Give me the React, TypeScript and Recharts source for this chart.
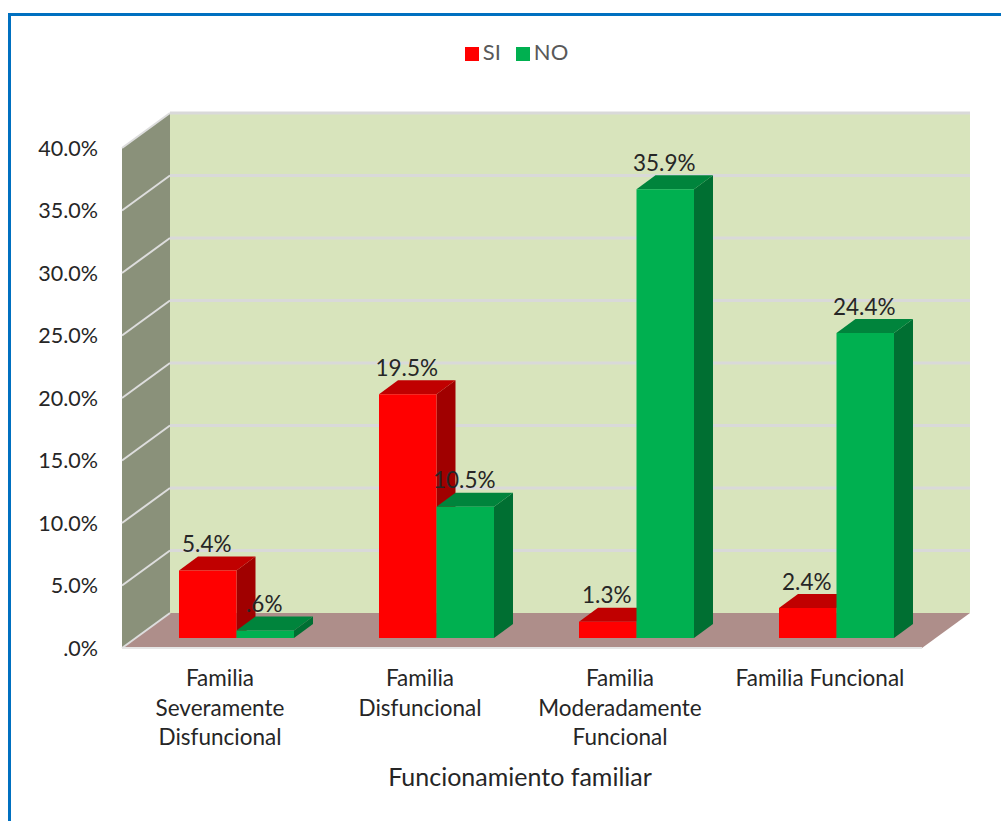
import React from 'react';
import { BarChart, Bar, XAxis, YAxis, CartesianGrid, Legend, LabelList, usePlotArea } from 'recharts';

const categories = [
  'Familia Severamente Disfuncional',
  'Familia Disfuncional',
  'Familia Moderadamente Funcional',
  'Familia Funcional',
];
const categoryLines: Record<string, string[]> = {
  'Familia Severamente Disfuncional': ['Familia', 'Severamente', 'Disfuncional'],
  'Familia Disfuncional': ['Familia', 'Disfuncional'],
  'Familia Moderadamente Funcional': ['Familia', 'Moderadamente', 'Funcional'],
  'Familia Funcional': ['Familia Funcional'],
};
const siValues = [5.4, 19.5, 1.3, 2.4];
const noValues = [0.6, 10.5, 35.9, 24.4];
const yTicks = [0, 5, 10, 15, 20, 25, 30, 35, 40];

const data = categories.map((name, i) => ({ name, SI: siValues[i], NO: noValues[i] }));

const FONT = 'Lato, sans-serif';
const TEXT = '#262626';

// depth of the box the chart sits in
const WALL_DX = 48;
const WALL_DY = -35;
// bars stand partway back on the floor
const BAR_DX = 14;
const BAR_DY = -10;
const BAR_DEPTH_X = 19;
const BAR_DEPTH_Y = -14;

// Excel style: no leading zero
const pct = (v: number) => `${v.toFixed(1).replace(/^0/, '')}%`;

const pts = (list: number[][]) => list.map((p) => p.join(',')).join(' ');

const Walls = () => {
  const plot = usePlotArea();
  if (!plot) return null;
  const { x, y, width, height } = plot;
  const bottom = y + height;
  return (
    <g>
      <polygon
        fill="#D8E4BC"
        points={pts([
          [x + WALL_DX, y + WALL_DY],
          [x + width + WALL_DX, y + WALL_DY],
          [x + width + WALL_DX, bottom + WALL_DY],
          [x + WALL_DX, bottom + WALL_DY],
        ])}
      />
      <polygon
        fill="#8A917A"
        points={pts([
          [x, y],
          [x + WALL_DX, y + WALL_DY],
          [x + WALL_DX, bottom + WALL_DY],
          [x, bottom],
        ])}
      />
      <polygon
        fill="#AE8E8A"
        points={pts([
          [x, bottom],
          [x + WALL_DX, bottom + WALL_DY],
          [x + width + WALL_DX, bottom + WALL_DY],
          [x + width, bottom],
        ])}
      />
    </g>
  );
};

// each gridline runs up the side wall, then across the back wall
const gridLine = (p: any) => {
  const isFloor = p.y1 > 600;
  return (
    <g key={p.key}>
      <line x1={p.x1} y1={p.y1} x2={p.x1 + WALL_DX} y2={p.y1 + WALL_DY} stroke="#DDDDDD" strokeWidth={2} />
      {!isFloor && (
        <line
          x1={p.x1 + WALL_DX}
          y1={p.y1 + WALL_DY}
          x2={p.x2 + WALL_DX}
          y2={p.y2 + WALL_DY}
          stroke="#D9D9D9"
          strokeWidth={3}
        />
      )}
    </g>
  );
};

const box3d = (top: string, side: string) => (p: any) => {
  const x = p.x + BAR_DX;
  const y = p.y + BAR_DY;
  const { width, height, fill } = p;
  return (
    <g>
      <polygon
        fill={side}
        points={pts([
          [x + width, y],
          [x + width + BAR_DEPTH_X, y + BAR_DEPTH_Y],
          [x + width + BAR_DEPTH_X, y + height + BAR_DEPTH_Y],
          [x + width, y + height],
        ])}
      />
      <polygon
        fill={top}
        points={pts([
          [x, y],
          [x + BAR_DEPTH_X, y + BAR_DEPTH_Y],
          [x + width + BAR_DEPTH_X, y + BAR_DEPTH_Y],
          [x + width, y],
        ])}
      />
      <rect x={x} y={y} width={width} height={height} fill={fill} />
    </g>
  );
};

const redBox = box3d('#C00000', '#A00000');
const greenBox = box3d('#00843C', '#006F32');

const valueLabel = (p: any) => (
  <text
    x={p.x + p.width / 2 + BAR_DX - 1}
    y={p.y + BAR_DY - 27}
    textAnchor="middle"
    dominantBaseline="central"
    fontFamily={FONT}
    fontSize={22.5}
    fill={TEXT}
  >
    {pct(Number(p.value))}
  </text>
);

const CategoryTick = (p: any) => {
  const lines = categoryLines[p.payload.value] ?? [p.payload.value];
  return (
    <text x={p.x - 2} y={p.y} textAnchor="middle" fontFamily={FONT} fontSize={22.5} fill={TEXT}>
      {lines.map((line, i) => (
        <tspan key={line} x={p.x - 2} y={p.y + 30 + i * 29.5}>
          {line}
        </tspan>
      ))}
    </text>
  );
};

export default function App() {
  return (
    <div style={{ position: 'fixed', left: 0, top: 0, width: 1001, height: 821, overflow: 'hidden', background: '#fff' }}>
      <div
        style={{
          position: 'absolute',
          left: 8,
          top: 13,
          width: 1100,
          height: 900,
          border: '3px solid #0070C0',
        }}
      />
      <div style={{ position: 'absolute', left: 0, top: 0 }}>
        <BarChart
          width={1001}
          height={821}
          data={data}
          margin={{ top: 118, right: 79, bottom: 0, left: 0 }}
          barSize={57.5}
          barGap={0}
        >
          <Walls />
          <CartesianGrid vertical={false} horizontal={gridLine} zIndex={1} />
          <XAxis
            dataKey="name"
            height={173}
            tick={<CategoryTick />}
            tickLine={false}
            interval={0}
            axisLine={{ stroke: '#E6E6E6', strokeWidth: 2 }}
            label={{
              value: 'Funcionamiento familiar',
              position: 'insideBottom',
              offset: 35,
              dx: -2,
              fontFamily: FONT,
              fontSize: 25,
              fill: TEXT,
            }}
          />
          <YAxis
            width={122}
            domain={[0, 40]}
            ticks={yTicks}
            tickFormatter={pct}
            tickLine={false}
            axisLine={false}
            tickMargin={18}
            tick={{ fontFamily: FONT, fontSize: 21.5, fill: TEXT, dy: 0 }}
          />
          <Legend
            verticalAlign="top"
            height={30}
            iconType="square"
            iconSize={14}
            itemSorter={null}
            wrapperStyle={{ top: 38, left: 63, fontFamily: FONT, fontSize: 22 }}
            formatter={(value: string) => <span style={{ color: '#595959', marginRight: 5 }}>{value}</span>}
          />
          <Bar dataKey="SI" fill="#FF0000" shape={redBox} isAnimationActive={false}>
            <LabelList dataKey="SI" content={valueLabel} />
          </Bar>
          <Bar dataKey="NO" fill="#00B050" shape={greenBox} isAnimationActive={false}>
            <LabelList dataKey="NO" content={valueLabel} />
          </Bar>
        </BarChart>
      </div>
    </div>
  );
}
